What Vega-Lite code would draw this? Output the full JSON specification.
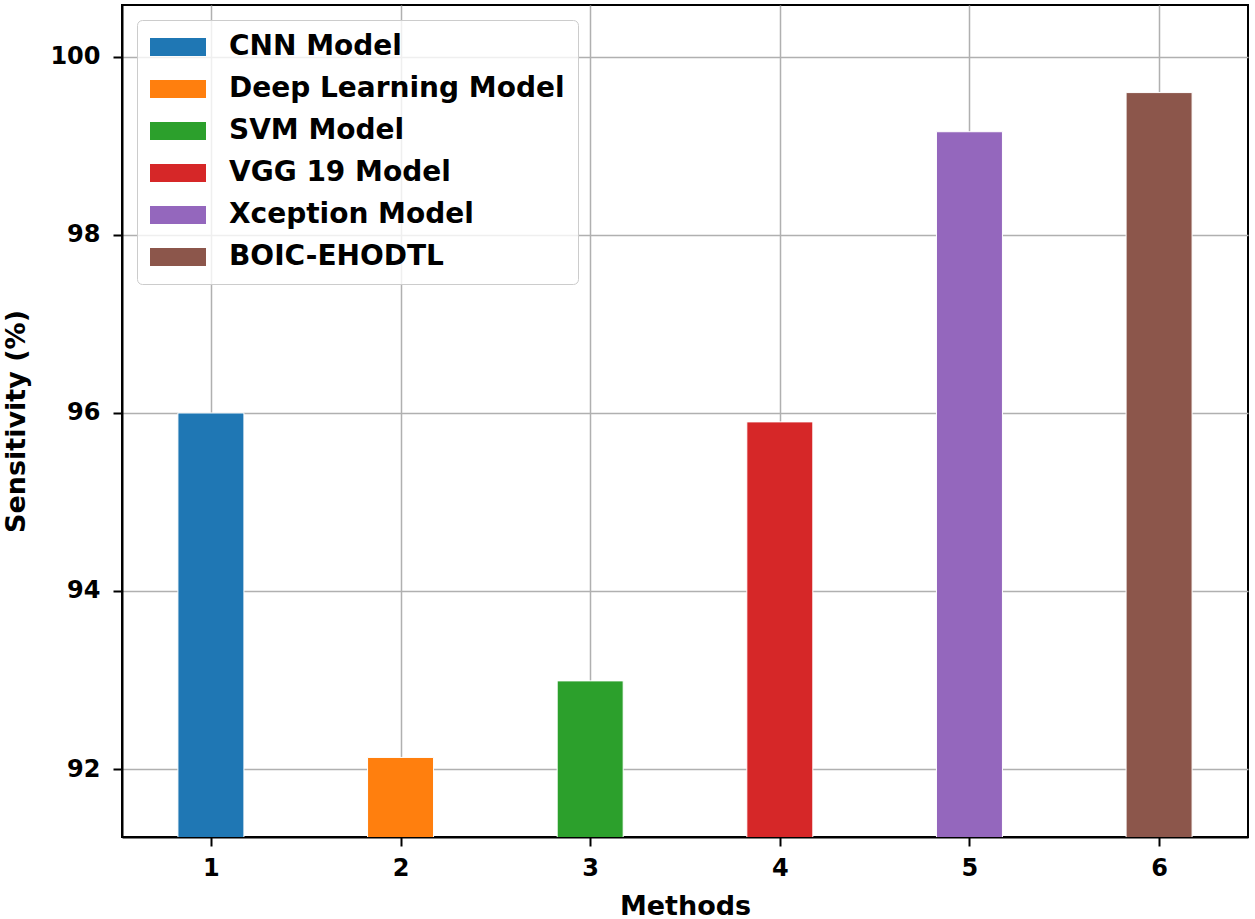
{
  "$schema": "https://vega.github.io/schema/vega-lite/v6.json",
  "autosize": {"type": "none"},
  "width": 1126,
  "height": 832,
  "padding": {"left": 122, "top": 5, "right": 7, "bottom": 82},
  "background": "white",
  "config": {
    "font": "DejaVu Sans",
    "view": {"stroke": "black", "strokeWidth": 2},
    "axis": {
      "labelFont": "DejaVu Sans",
      "titleFont": "DejaVu Sans",
      "labelFontWeight": "bold",
      "titleFontWeight": "bold",
      "labelFontSize": 24,
      "titleFontSize": 27,
      "labelColor": "black",
      "titleColor": "black",
      "tickColor": "black",
      "tickWidth": 2,
      "tickSize": 9,
      "domainColor": "black",
      "domainWidth": 2,
      "grid": true,
      "gridColor": "#b0b0b0",
      "gridWidth": 1.5
    }
  },
  "data": {
    "values": [
      {"index": 1, "method": "CNN Model", "sensitivity": 96.0},
      {"index": 2, "method": "Deep Learning Model", "sensitivity": 92.13},
      {"index": 3, "method": "SVM Model", "sensitivity": 92.99},
      {"index": 4, "method": "VGG 19 Model", "sensitivity": 95.9},
      {"index": 5, "method": "Xception Model", "sensitivity": 99.16},
      {"index": 6, "method": "BOIC-EHODTL", "sensitivity": 99.6}
    ]
  },
  "mark": {"type": "bar", "width": 66, "clip": true, "stroke": "white", "strokeWidth": 1},
  "encoding": {
    "x": {
      "field": "index",
      "type": "quantitative",
      "scale": {"domain": [0.5575, 6.4425], "nice": false, "zero": false},
      "axis": {
        "values": [1, 2, 3, 4, 5, 6],
        "format": "d",
        "title": "Methods",
        "labelPadding": 10,
        "titlePadding": 13
      }
    },
    "y": {
      "field": "sensitivity",
      "type": "quantitative",
      "scale": {"domain": [91.236, 100.584], "nice": false, "zero": false},
      "axis": {
        "values": [92, 94, 96, 98, 100],
        "title": "Sensitivity (%)",
        "labelPadding": 13,
        "titlePadding": 19
      }
    },
    "color": {
      "field": "method",
      "type": "nominal",
      "scale": {
        "domain": ["CNN Model", "Deep Learning Model", "SVM Model", "VGG 19 Model", "Xception Model", "BOIC-EHODTL"],
        "range": ["#1f77b4", "#ff7f0e", "#2ca02c", "#d62728", "#9467bd", "#8c564b"]
      },
      "legend": {
        "title": null,
        "orient": "none",
        "legendX": 15,
        "legendY": 15,
        "padding": 13,
        "fillColor": "rgba(255,255,255,0.8)",
        "strokeColor": "#cccccc",
        "cornerRadius": 5,
        "symbolType": "M-1,-0.64L3,-0.64L3,0.64L-1,0.64Z",
        "symbolSize": 784,
        "symbolStrokeWidth": 0,
        "symbolOpacity": 1,
        "labelFont": "DejaVu Sans",
        "labelFontSize": 28,
        "labelFontWeight": "bold",
        "labelColor": "black",
        "labelOffset": 51,
        "rowPadding": 14,
        "labelLimit": 500
      }
    }
  }
}
